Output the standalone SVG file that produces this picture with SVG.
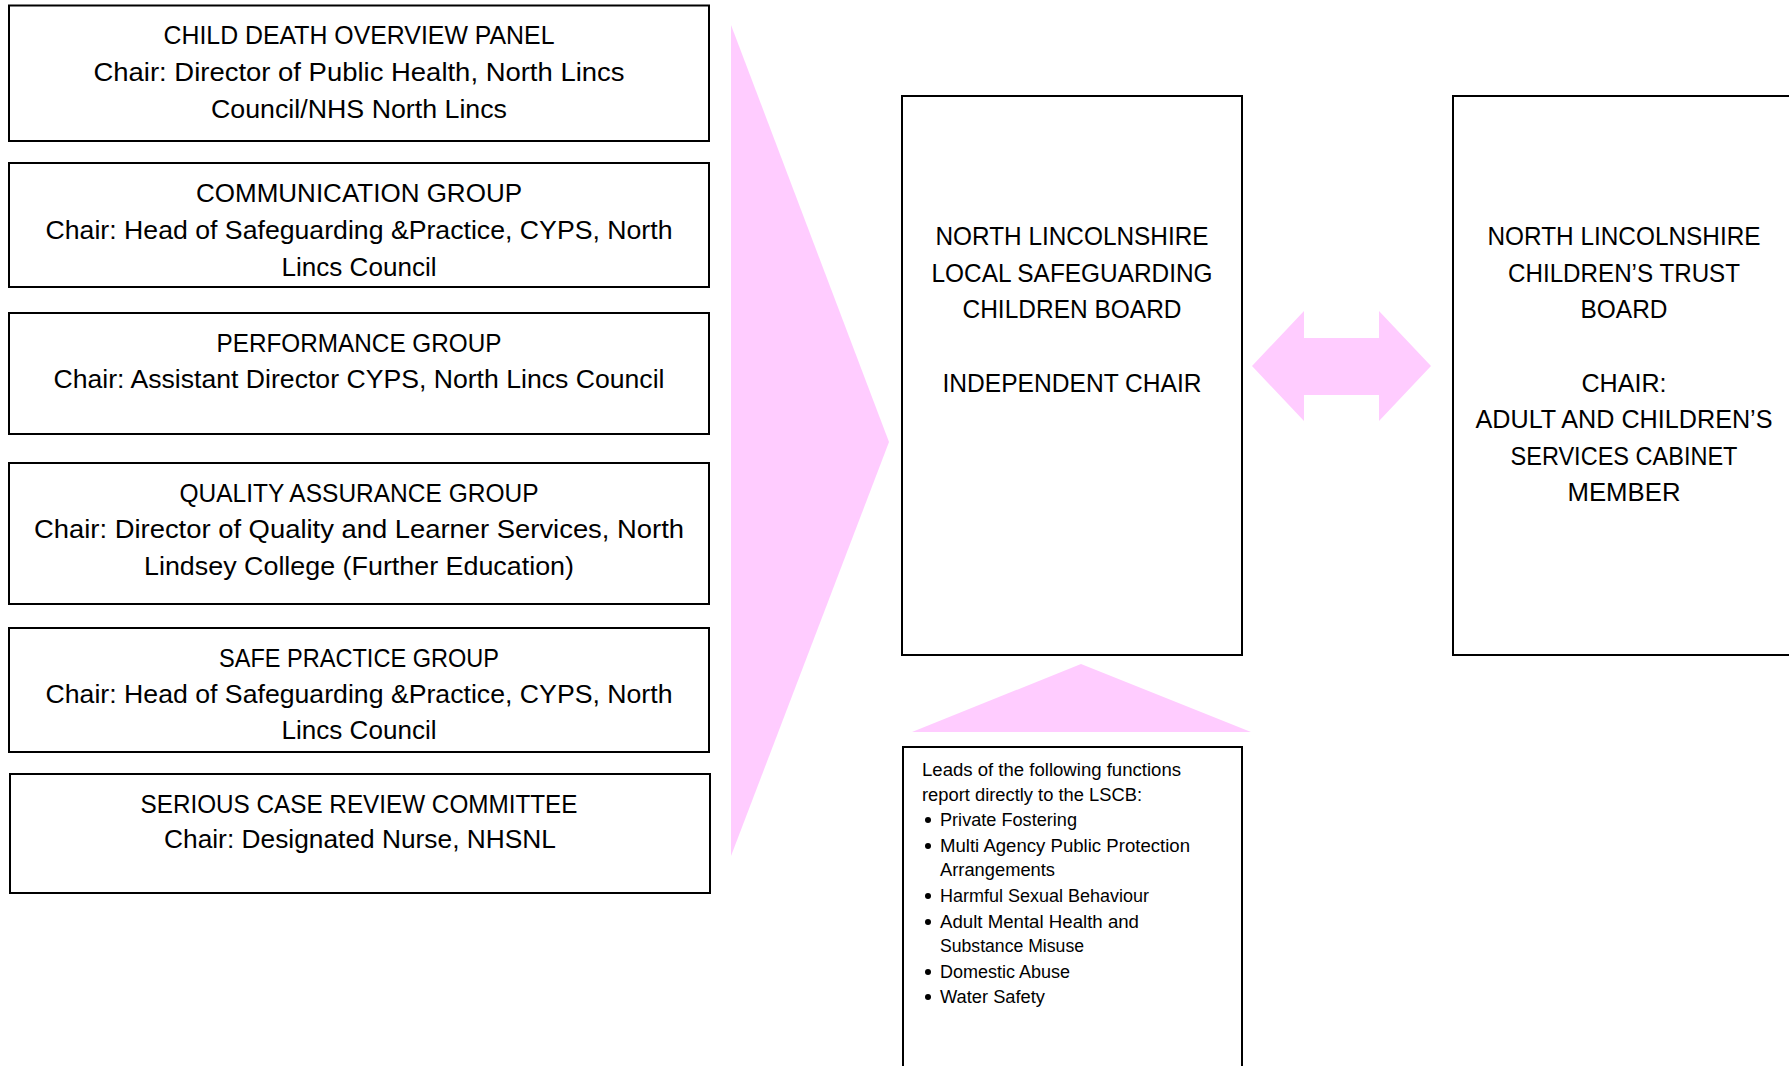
<svg xmlns="http://www.w3.org/2000/svg" width="1789" height="1066" viewBox="0 0 1789 1066">
<style>
.box{fill:#ffffff;stroke:#000000;stroke-width:2}
.t{font-family:"Liberation Sans",Arial,sans-serif;font-size:26px;fill:#000000;text-anchor:middle}
.s{font-family:"Liberation Sans",Arial,sans-serif;font-size:17.5px;fill:#000000}
.pink{fill:#FFCCFF;stroke:none}
</style>
<rect width="1789" height="1066" fill="#ffffff"/>
<g id="connectors">
<polygon class="pink" points="731,25 889,442 731,856"/>
<polygon class="pink" points="1252,366 1304,311 1304,338 1379,338 1379,311 1431,366 1379,421 1379,395 1304,395 1304,421"/>
<polygon class="pink" points="912,732 1081,664 1251,732"/>
</g>
<g id="child-death">
<rect class="box" x="9" y="5.5" width="700" height="135.5"/>
<text class="t" x="359" y="44" textLength="391" lengthAdjust="spacingAndGlyphs">CHILD DEATH OVERVIEW PANEL</text>
<text class="t" x="359" y="81" textLength="531" lengthAdjust="spacingAndGlyphs">Chair: Director of Public Health, North Lincs</text>
<text class="t" x="359" y="118" textLength="296" lengthAdjust="spacingAndGlyphs">Council/NHS North Lincs</text>
</g>
<g id="communication">
<rect class="box" x="9" y="163" width="700" height="124"/>
<text class="t" x="359" y="202" textLength="326" lengthAdjust="spacingAndGlyphs">COMMUNICATION GROUP</text>
<text class="t" x="359" y="239" textLength="627" lengthAdjust="spacingAndGlyphs">Chair: Head of Safeguarding &amp;Practice, CYPS, North</text>
<text class="t" x="359" y="276" textLength="155" lengthAdjust="spacingAndGlyphs">Lincs Council</text>
</g>
<g id="performance">
<rect class="box" x="9" y="313" width="700" height="121"/>
<text class="t" x="359" y="352" textLength="285" lengthAdjust="spacingAndGlyphs">PERFORMANCE GROUP</text>
<text class="t" x="359" y="388" textLength="611" lengthAdjust="spacingAndGlyphs">Chair: Assistant Director CYPS, North Lincs Council</text>
</g>
<g id="quality">
<rect class="box" x="9" y="463" width="700" height="141"/>
<text class="t" x="359" y="502" textLength="359" lengthAdjust="spacingAndGlyphs">QUALITY ASSURANCE GROUP</text>
<text class="t" x="359" y="538" textLength="650" lengthAdjust="spacingAndGlyphs">Chair: Director of Quality and Learner Services, North</text>
<text class="t" x="359" y="575" textLength="430" lengthAdjust="spacingAndGlyphs">Lindsey College (Further Education)</text>
</g>
<g id="safe-practice">
<rect class="box" x="9" y="628" width="700" height="124"/>
<text class="t" x="359" y="667" textLength="280" lengthAdjust="spacingAndGlyphs">SAFE PRACTICE GROUP</text>
<text class="t" x="359" y="703" textLength="627" lengthAdjust="spacingAndGlyphs">Chair: Head of Safeguarding &amp;Practice, CYPS, North</text>
<text class="t" x="359" y="739" textLength="155" lengthAdjust="spacingAndGlyphs">Lincs Council</text>
</g>
<g id="serious-case">
<rect class="box" x="10" y="774" width="700" height="119"/>
<text class="t" x="359" y="813" textLength="437" lengthAdjust="spacingAndGlyphs">SERIOUS CASE REVIEW COMMITTEE</text>
<text class="t" x="360" y="848" textLength="392" lengthAdjust="spacingAndGlyphs">Chair: Designated Nurse, NHSNL</text>
</g>
<g id="lscb">
<rect class="box" x="902" y="96" width="340" height="559"/>
<text class="t" x="1072" y="245" textLength="273" lengthAdjust="spacingAndGlyphs">NORTH LINCOLNSHIRE</text>
<text class="t" x="1072" y="282" textLength="281" lengthAdjust="spacingAndGlyphs">LOCAL SAFEGUARDING</text>
<text class="t" x="1072" y="318" textLength="219" lengthAdjust="spacingAndGlyphs">CHILDREN BOARD</text>
<text class="t" x="1072" y="392" textLength="259" lengthAdjust="spacingAndGlyphs">INDEPENDENT CHAIR</text>
</g>
<g id="trust-board">
<rect class="box" x="1453" y="96" width="342" height="559"/>
<text class="t" x="1624" y="245" textLength="273" lengthAdjust="spacingAndGlyphs">NORTH LINCOLNSHIRE</text>
<text class="t" x="1624" y="282" textLength="232" lengthAdjust="spacingAndGlyphs">CHILDREN’S TRUST</text>
<text class="t" x="1624" y="318" textLength="87" lengthAdjust="spacingAndGlyphs">BOARD</text>
<text class="t" x="1624" y="392" textLength="85" lengthAdjust="spacingAndGlyphs">CHAIR:</text>
<text class="t" x="1624" y="428" textLength="297" lengthAdjust="spacingAndGlyphs">ADULT AND CHILDREN’S</text>
<text class="t" x="1624" y="465" textLength="227" lengthAdjust="spacingAndGlyphs">SERVICES CABINET</text>
<text class="t" x="1624" y="501" textLength="113" lengthAdjust="spacingAndGlyphs">MEMBER</text>
</g>
<g id="functions">
<rect class="box" x="903" y="747" width="339" height="330"/>
<text class="s" x="922" y="776" textLength="259" lengthAdjust="spacingAndGlyphs">Leads of the following functions</text>
<text class="s" x="922" y="801" textLength="220" lengthAdjust="spacingAndGlyphs">report directly to the LSCB:</text>
<circle cx="928" cy="820" r="3"/>
<text class="s" x="940" y="826" textLength="137" lengthAdjust="spacingAndGlyphs">Private Fostering</text>
<circle cx="928" cy="846" r="3"/>
<text class="s" x="940" y="852" textLength="250" lengthAdjust="spacingAndGlyphs">Multi Agency Public Protection</text>
<text class="s" x="940" y="876" textLength="115" lengthAdjust="spacingAndGlyphs">Arrangements</text>
<circle cx="928" cy="896" r="3"/>
<text class="s" x="940" y="902" textLength="209" lengthAdjust="spacingAndGlyphs">Harmful Sexual Behaviour</text>
<circle cx="928" cy="922" r="3"/>
<text class="s" x="940" y="928" textLength="199" lengthAdjust="spacingAndGlyphs">Adult Mental Health and</text>
<text class="s" x="940" y="952" textLength="144" lengthAdjust="spacingAndGlyphs">Substance Misuse</text>
<circle cx="928" cy="972" r="3"/>
<text class="s" x="940" y="978" textLength="130" lengthAdjust="spacingAndGlyphs">Domestic Abuse</text>
<circle cx="928" cy="997" r="3"/>
<text class="s" x="940" y="1003" textLength="105" lengthAdjust="spacingAndGlyphs">Water Safety</text>
</g>
</svg>
